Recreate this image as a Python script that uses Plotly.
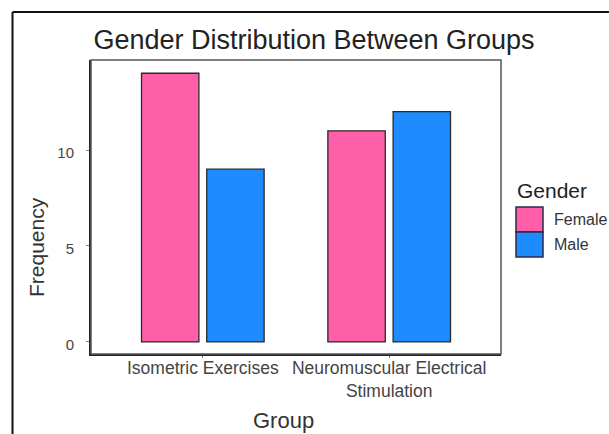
import plotly.graph_objects as go

groups = ["Isometric Exercises", "Neuromuscular Electrical<br>Stimulation"]
genders = ["Female", "Male"]
female_counts = [14, 11]
male_counts = [9, 12]
colors = {"Female": "#FF5FA8", "Male": "#1E8CFF"}
y_ticks = [0, 5, 10]

# plot area in pixels
L, R, T, B = 91, 501, 60, 354
W, H = 609, 434

def px(xp):
    return (xp - L) / (R - L)

def py(yp):
    return (B - yp) / (B - T)

fig = go.Figure()
for g, vals in zip(genders, [female_counts, male_counts]):
    fig.add_trace(go.Bar(
        x=groups, y=vals, name=g,
        marker=dict(color=colors[g], line=dict(color="#2a2a2a", width=1.3)),
        showlegend=False,
    ))

shapes = [
    dict(type="rect", xref="paper", yref="paper", x0=0, x1=1, y0=0, y1=1,
         line=dict(color="#555555", width=1.5), layer="above"),
    dict(type="line", xref="paper", yref="paper", x0=px(12.5), x1=px(12.5), y0=py(12), y1=py(440),
         line=dict(color="#111111", width=2)),
    dict(type="line", xref="paper", yref="paper", x0=px(12.5), x1=px(615), y0=py(12), y1=py(12),
         line=dict(color="#111111", width=2)),
]
key_tops = [207, 232]
for g, top in zip(genders, key_tops):
    shapes.append(dict(type="rect", xref="paper", yref="paper",
                       x0=px(516), x1=px(543), y0=py(top + 25), y1=py(top),
                       fillcolor=colors[g], line=dict(color="#2a2a4a", width=1.5)))

annotations = [
    dict(text="Gender", xref="paper", yref="paper", x=px(515), y=py(190),
         xanchor="left", yanchor="middle", showarrow=False,
         font=dict(size=21, color="#222222")),
    dict(text="Frequency", xref="paper", yref="paper", x=px(37), y=py(247),
         xanchor="center", yanchor="middle", showarrow=False, textangle=-90,
         font=dict(size=21, color="#333333")),
    dict(text="Group", xref="paper", yref="paper", x=px(283), y=py(420),
         xanchor="center", yanchor="middle", showarrow=False,
         font=dict(size=22, color="#333333")),
]
for g, top in zip(genders, key_tops):
    annotations.append(dict(text=g, xref="paper", yref="paper", x=px(552), y=py(top + 13),
                            xanchor="left", yanchor="middle", showarrow=False,
                            font=dict(size=16, color="#333333")))

fig.update_layout(
    width=W, height=H,
    margin=dict(l=L, r=W - R, t=T, b=H - B),
    paper_bgcolor="white", plot_bgcolor="white",
    font=dict(family="Liberation Sans, Arial, sans-serif"),
    title=dict(text="Gender Distribution Between Groups", x=px(314), xref="paper",
               xanchor="center", y=1 - 40 / H, yref="container", yanchor="middle",
               font=dict(size=27, color="#222222")),
    barmode="group", bargap=0.3, bargroupgap=0.12,
    shapes=shapes, annotations=annotations,
    xaxis=dict(
        range=[-0.6, 1.6], showgrid=False, zeroline=False, automargin=False,
        showline=True, linecolor="#222222", linewidth=2,
        ticks="outside", ticklen=2, tickcolor="#777777",
        tickfont=dict(size=17.5, color="#444444"), ticklabelstandoff=-5,
    ),
    yaxis=dict(
        range=[-0.63, 14.69], showgrid=False, zeroline=False, automargin=False,
        showline=True, linecolor="#222222", linewidth=2,
        tickvals=y_ticks, ticks="outside", ticklen=3, tickcolor="#888888",
        tickfont=dict(size=15, color="#444444"), ticklabelstandoff=9,
        ticklabelshift=3,
    ),
)

fig.write_html("out.html", config={"displayModeBar": False},
               post_script="document.body.style.margin='0px';")
